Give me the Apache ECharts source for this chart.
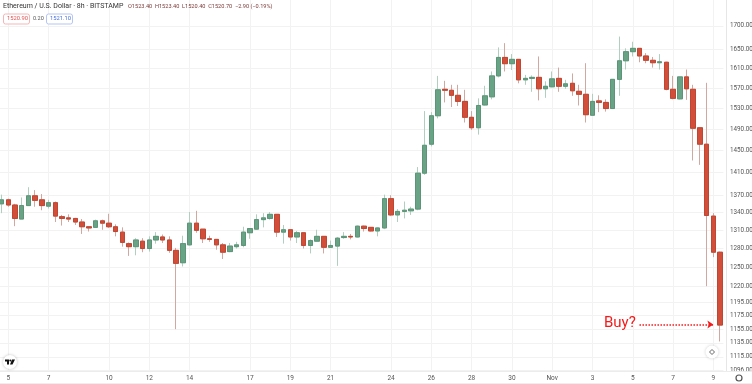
<!DOCTYPE html>
<html><head><meta charset="utf-8">
<style>html,body{margin:0;padding:0;background:#fff}#c{width:752px;height:384px}#c canvas{filter:blur(.35px)}</style>
<script src="https://cdn.jsdelivr.net/npm/echarts@6/dist/echarts.min.js"></script>
</head><body><div id="c"></div>
<script>
const opens=[1355,1362,1353,1329,1352,1369,1362,1351,1357,1333,1331,1330,1324,1316,1315,1326,1322,1316,1307,1288,1283,1292,1280,1294,1299,1294,1277,1257,1286,1322,1312,1296,1295,1286,1275,1283,1285,1306,1312,1328,1330,1337,1307,1311,1299,1306,1285,1292,1300,1282,1284,1298,1300,1299,1317,1315,1309,1314,1364,1336,1342,1343,1346,1409,1462,1516,1568,1566,1556,1544,1513,1493,1537,1553,1595,1633,1620,1629,1587,1590,1592,1569,1573,1590,1574,1580,1564,1558,1517,1545,1542,1530,1588,1626,1645,1652,1636,1627,1622,1623,1568,1549,1593,1568,1493,1462,1334,1274];
const closes=[1362,1353,1330,1352,1369,1361,1352,1357,1334,1330,1329,1324,1316,1314,1326,1322,1316,1308,1290,1283,1294,1280,1294,1300,1294,1277,1256,1288,1322,1310,1296,1295,1286,1274,1284,1286,1307,1313,1328,1331,1337,1307,1311,1299,1306,1285,1293,1300,1282,1285,1297,1300,1299,1317,1313,1309,1314,1364,1336,1342,1344,1346,1409,1460,1516,1567,1566,1556,1544,1513,1493,1536,1555,1595,1633,1620,1629,1587,1590,1592,1569,1574,1589,1574,1579,1565,1558,1518,1544,1542,1530,1588,1626,1645,1652,1636,1627,1622,1624,1568,1550,1593,1569,1492,1462,1335,1274,1161];
const lows=[1339,1350,1317,1329,1352,1350,1344,1347,1324,1318,1324,1319,1304,1308,1314,1311,1314,1300,1283,1268,1269,1274,1275,1288,1289,1273,1155,1251,1285,1306,1289,1291,1278,1263,1274,1280,1282,1296,1311,1315,1328,1299,1288,1293,1289,1280,1272,1291,1272,1281,1252,1296,1295,1298,1308,1308,1300,1312,1334,1324,1330,1336,1344,1406,1458,1511,1542,1533,1535,1503,1489,1480,1536,1548,1592,1604,1607,1580,1577,1563,1546,1551,1572,1563,1569,1555,1536,1503,1516,1523,1524,1529,1555,1608,1635,1623,1621,1612,1608,1566,1548,1548,1547,1432,1424,1220,1266,1137];
const highs=[1371,1364,1355,1366,1384,1379,1372,1362,1359,1336,1337,1331,1329,1317,1328,1328,1338,1320,1315,1290,1297,1297,1300,1307,1303,1300,1281,1301,1341,1343,1312,1301,1295,1289,1289,1291,1316,1313,1337,1339,1341,1337,1319,1311,1309,1306,1295,1311,1300,1293,1299,1307,1304,1318,1318,1315,1315,1371,1370,1346,1359,1350,1420,1525,1523,1595,1585,1577,1577,1567,1525,1550,1575,1604,1654,1663,1640,1629,1597,1596,1635,1584,1604,1612,1587,1600,1577,1621,1559,1556,1548,1588,1677,1652,1666,1652,1642,1634,1640,1624,1595,1593,1608,1577,1494,1581,1339,1275];
const tickIndex=[1,7,16,22,28,37,43,49,58,64,70,76,82,88,94,100,106];
const tickLabels=['5','7','10','12','14','17','19','21','24','26','28','30','Nov','3','5','7','9'];
const priceTicks=[1700,1650,1610,1570,1530,1490,1450,1410,1370,1340,1310,1280,1250,1220,1195,1175,1155,1135,1115,1096];
const categories=opens.map((_,i)=>{const k=tickIndex.indexOf(i);return k<0?'':tickLabels[k]});

const wickData=opens.map((o,i)=>[o,closes[i],lows[i],highs[i]]);
const bodyData=opens.map((o,i)=>[o,closes[i],Math.min(o,closes[i]),Math.max(o,closes[i])]);
const isTick=i=>tickIndex.includes(i);
const RED='#d24e38',GREEN='#68a385';
const chart=echarts.init(document.getElementById('c'),null,{renderer:'canvas',width:752,height:384});
chart.setOption({
  animation:false,
  backgroundColor:'#fff',
  grid:{left:-1.76,right:28.6,top:0,bottom:12,outerBoundsMode:'none',containLabel:false},
  xAxis:[
   {type:'category',data:categories,
    axisLine:{show:false},axisTick:{show:false},axisLabel:{show:false},
    splitLine:{show:true,alignWithLabel:true,interval:i=>isTick(i),lineStyle:{color:'#f2f2f3',width:1}}},
   {type:'category',data:categories,position:'bottom',z:60,
    axisLine:{show:false},axisTick:{show:false},splitLine:{show:false},
    axisLabel:{show:true,interval:i=>isTick(i),margin:3,fontSize:6.5,color:'#555',fontFamily:'Roboto',hideOverlap:false}}
  ],
  yAxis:{type:'log',logBase:10,min:1093.6,max:1757,position:'right',offset:2.6,scale:true,
    axisLine:{show:true,lineStyle:{color:'#e6e6e6'}},
    axisTick:{show:false,customValues:priceTicks},
    axisLabel:{customValues:priceTicks,margin:4,fontSize:6.3,color:'#555',fontFamily:'Roboto',formatter:v=>Number(v).toFixed(2),showMinLabel:true,showMaxLabel:true,hideOverlap:false},
    splitLine:{show:true,lineStyle:{color:'#f2f2f3',width:1}}},
  series:[
    {type:'candlestick',data:wickData,barWidth:5,silent:true,z:2,
     itemStyle:{color:'#bcd6c8',color0:'#d6b0a9',borderColor:'#b0cfbe',borderColor0:'#d0a8a0',borderWidth:1}},
    {type:'candlestick',data:bodyData,barWidth:5,silent:true,z:3,
     itemStyle:{color:GREEN,color0:RED,borderColor:'#5b9477',borderColor0:'#bf4632',borderWidth:1},
     markLine:{silent:true,symbol:['none','arrow'],symbolSize:6,label:{show:false},animation:false,
       lineStyle:{color:'#f51a1a',type:'dotted',width:1.5},
       data:[[{coord:[95,1162]},{coord:[106,1162]}]]}}
  ],
  graphic:[
    {type:'rect',z:50,shape:{x:0,y:372,width:752,height:12},style:{fill:'#fff'}},
    {type:'line',z:51,shape:{x1:0,y1:371.5,x2:752,y2:371.5},style:{stroke:'#ececec'}},
    {type:'line',z:51,shape:{x1:0,y1:383.5,x2:752,y2:383.5},style:{stroke:'#eeeeee'}},
    {type:'text',z:70,left:604,top:316,style:{text:'Buy?',fill:'#f51a1a',font:'15px Roboto'}},
    {type:'text',z:70,left:3,top:3,style:{text:'Ethereum / U.S. Dollar · 8h · BITSTAMP',fill:'#333',font:'7px Roboto'}},
    {type:'text',z:70,left:128,top:4,style:{text:'O1523.40  H1523.40  L1520.40  C1520.70  −2.90 (−0.19%)',fill:'#7a3a38',font:'5.6px Roboto'}},
    {type:'rect',z:70,shape:{x:3.5,y:14,width:26,height:10,r:2},style:{fill:'#fff',stroke:'#f5b5b5'}},
    {type:'text',z:71,left:7,top:16,style:{text:'1520.90',fill:'#e05050',font:'5.8px Roboto'}},
    {type:'text',z:71,left:33,top:16,style:{text:'0.20',fill:'#555',font:'5.5px Roboto'}},
    {type:'rect',z:70,shape:{x:46.5,y:14,width:26,height:10,r:2},style:{fill:'#fff',stroke:'#b5c5f5'}},
    {type:'text',z:71,left:50,top:16,style:{text:'1521.10',fill:'#4a70d8',font:'5.8px Roboto'}},
    {type:'circle',z:70,shape:{cx:10,cy:362,r:7},style:{fill:'#fff',shadowBlur:3,shadowColor:'rgba(0,0,0,.25)'}},
    {type:'polygon',z:71,shape:{points:[[5,359.5],[9,359.5],[9,364.5],[7,364.5],[7,361.5],[5,361.5]]},style:{fill:'#111'}},
    {type:'circle',z:71,shape:{cx:10.3,cy:360.4,r:1},style:{fill:'#111'}},
    {type:'polygon',z:71,shape:{points:[[12,359.5],[15,359.5],[12.5,364.5],[10,364.5]]},style:{fill:'#111'}},
    {type:'circle',z:70,shape:{cx:712,cy:352,r:6.5},style:{fill:'#fff',shadowBlur:3,shadowColor:'rgba(0,0,0,.2)'}},
    {type:'polygon',z:71,shape:{points:[[712,349.5],[714.5,352],[712,354.5],[709.5,352]]},style:{fill:'none',stroke:'#666'}},
    {type:'circle',z:70,shape:{cx:739,cy:378,r:3},style:{fill:'none',stroke:'#555',lineWidth:1.2}}
  ]
});
</script></body></html>
